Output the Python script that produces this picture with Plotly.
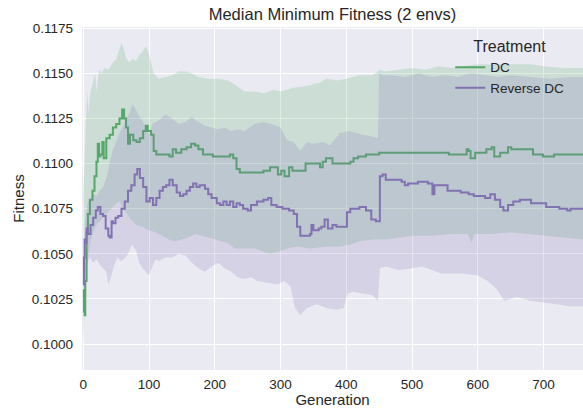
import plotly.graph_objects as go

# ---------------- data ----------------
dc_gen = [0, 1, 2, 3, 5, 7, 10, 14, 17, 20, 22, 24, 26, 29, 31, 35, 40, 45, 50, 55, 59, 62, 65, 68, 71, 76, 81,
          86, 91, 95, 98, 103, 107, 111, 121, 131, 136, 141, 149, 157, 164, 170, 175, 182, 197, 218, 223, 228,
          233, 238, 253, 260, 274, 284, 290, 296, 301, 306, 313, 318, 333, 338, 347, 360, 364, 369, 376, 379,
          391, 406, 411, 418, 430, 450, 494, 554, 556, 579, 583, 586, 589, 593, 596, 605, 613, 621, 625, 634,
          646, 651, 659, 681, 684, 699, 714, 716, 760]
dc_med = [0.1030, 0.1018, 0.1016, 0.1035, 0.1062, 0.1072, 0.1080, 0.1085, 0.1093, 0.1101, 0.1111, 0.1104,
          0.1105, 0.1112, 0.1103, 0.1114, 0.1116, 0.1120, 0.1122, 0.1125, 0.1130, 0.1125, 0.1120, 0.1111,
          0.1116, 0.1113, 0.1112, 0.1114, 0.1118, 0.1121, 0.1118, 0.1116, 0.1107, 0.1105, 0.1105, 0.1104,
          0.1108, 0.1106, 0.1108, 0.1109, 0.1111, 0.1110, 0.1108, 0.1105, 0.1104, 0.1104, 0.1105, 0.1103,
          0.1097, 0.1095, 0.1095, 0.1095, 0.1096, 0.1098, 0.1098, 0.1094, 0.1096, 0.1093, 0.1098, 0.1096,
          0.1096, 0.1100, 0.1100, 0.1098, 0.1101, 0.1103, 0.1103, 0.1100, 0.1100, 0.1101, 0.1103, 0.1104,
          0.1105, 0.1106, 0.1106, 0.1106, 0.1105, 0.1105, 0.1108, 0.1107, 0.1103, 0.1103, 0.1106, 0.1106,
          0.1108, 0.1109, 0.1104, 0.1106, 0.1109, 0.1108, 0.1108, 0.1108, 0.1105, 0.1104, 0.1104, 0.1105,
          0.1105]

rdc_gen = [0, 1, 2, 3, 5, 7, 11, 15, 19, 22, 26, 30, 34, 38, 40, 43, 45, 49, 53, 58, 63, 68, 73, 78, 82, 86,
           91, 96, 101, 106, 111, 116, 121, 126, 131, 136, 142, 147, 152, 157, 162, 167, 172, 177, 185, 190,
           195, 203, 208, 213, 218, 223, 228, 233, 238, 243, 250, 255, 264, 274, 281, 286, 294, 303, 313, 320,
           325, 330, 340, 345, 347, 350, 358, 362, 367, 372, 379, 385, 396, 401, 406, 420, 430, 438, 445, 449,
           451, 455, 460, 479, 484, 489, 494, 509, 520, 524, 529, 531, 534, 549, 554, 569, 574, 586, 594, 611,
           619, 626, 634, 639, 646, 654, 664, 674, 681, 699, 704, 714, 724, 736, 741, 760]
rdc_med = [0.1033, 0.1048, 0.1058, 0.1056, 0.1064, 0.1061, 0.1066, 0.1070, 0.1074, 0.1076, 0.1072, 0.1071,
           0.1064, 0.1060, 0.1059, 0.1068, 0.1067, 0.1070, 0.1071, 0.1075, 0.1079, 0.1085, 0.1088, 0.1094,
           0.1097, 0.1092, 0.1087, 0.1079, 0.1081, 0.1077, 0.1081, 0.1085, 0.1087, 0.1088, 0.1091, 0.1088,
           0.1084, 0.1082, 0.1083, 0.1085, 0.1087, 0.1089, 0.1087, 0.1088, 0.1086, 0.1083, 0.1081, 0.1078,
           0.1077, 0.1079, 0.1077, 0.1079, 0.1076, 0.1078, 0.1077, 0.1075, 0.1074, 0.1077, 0.1079, 0.1080,
           0.1081, 0.1077, 0.1076, 0.1075, 0.1074, 0.1072, 0.1065, 0.1060, 0.1060, 0.1061, 0.1066, 0.1063,
           0.1064, 0.1065, 0.1069, 0.1064, 0.1066, 0.1065, 0.1065, 0.1073, 0.1075, 0.1076, 0.1074, 0.1069,
           0.1068, 0.1068, 0.1093, 0.1094, 0.1091, 0.1091, 0.1090, 0.1088, 0.1089, 0.1090, 0.1090, 0.1089,
           0.1089, 0.1083, 0.1088, 0.1088, 0.1085, 0.1085, 0.1084, 0.1083, 0.1082, 0.1081, 0.1083, 0.1080,
           0.1076, 0.1074, 0.1077, 0.1079, 0.1080, 0.1080, 0.1078, 0.1078, 0.1076, 0.1076, 0.1075, 0.1074,
           0.1075, 0.1075]

dc_hi_gen = [0, 2, 4, 6, 8, 10, 14, 18, 20, 24, 28, 32, 38, 45, 50, 55, 58, 62, 66, 70, 75, 80, 85, 90, 95,
             98, 102, 107, 115, 125, 135, 145, 155, 165, 175, 190, 205, 220, 230, 245, 260, 275, 290, 300,
             320, 340, 360, 370, 385, 400, 420, 440, 452, 460, 480, 500, 520, 540, 560, 580, 600, 620, 650,
             680, 700, 730, 760]
dc_hi = [0.1085, 0.1110, 0.1125, 0.1140, 0.1128, 0.1138, 0.1145, 0.1150, 0.1140, 0.1152, 0.1150, 0.1153,
         0.1152, 0.1156, 0.1158, 0.1163, 0.1167, 0.1163, 0.1158, 0.1156, 0.1158, 0.1157, 0.1160, 0.1162,
         0.1165, 0.1163, 0.1157, 0.1150, 0.1147, 0.1148, 0.1149, 0.1151, 0.1151, 0.1150, 0.1148, 0.1147,
         0.1147, 0.1146, 0.1144, 0.1140, 0.1140, 0.1139, 0.1141, 0.1140, 0.1142, 0.1143, 0.1145, 0.1147,
         0.1146, 0.1147, 0.1149, 0.1149, 0.1152, 0.1151, 0.1152, 0.1153, 0.1152, 0.1154, 0.1153, 0.1154,
         0.1155, 0.1155, 0.1155, 0.1155, 0.1154, 0.1153, 0.1153]

dc_lo_gen = [0, 2, 4, 6, 10, 15, 20, 25, 30, 35, 40, 45, 50, 55, 60, 65, 70, 75, 80, 90, 100, 110, 120, 130,
             140, 150, 160, 170, 180, 190, 200, 210, 220, 230, 245, 260, 275, 285, 295, 310, 325, 345, 370,
             390, 405, 420, 440, 460, 480, 500, 530, 560, 585, 590, 595, 620, 650, 680, 700, 730, 760]
dc_lo = [0.1000, 0.1010, 0.1030, 0.1045, 0.1055, 0.1062, 0.1066, 0.1068, 0.1070, 0.1072, 0.1074, 0.1076,
         0.1078, 0.1079, 0.1075, 0.1073, 0.1070, 0.1068, 0.1066, 0.1065, 0.1063, 0.1062, 0.1060, 0.1058,
         0.1057, 0.1058, 0.1059, 0.1061, 0.1060, 0.1059, 0.1058, 0.1057, 0.1056, 0.1053, 0.1053, 0.1053,
         0.1051, 0.1050, 0.1051, 0.1053, 0.1054, 0.1053, 0.1054, 0.1054, 0.1055, 0.1057, 0.1058, 0.1058,
         0.1059, 0.1060, 0.1060, 0.1061, 0.1061, 0.1056, 0.1061, 0.1061, 0.1062, 0.1061, 0.1060, 0.1059,
         0.1058]

rdc_hi_gen = [0, 3, 6, 10, 15, 20, 25, 30, 35, 40, 45, 50, 55, 60, 65, 70, 75, 80, 85, 90, 95, 100, 105,
              115, 125, 135, 145, 155, 165, 175, 185, 195, 205, 215, 225, 235, 245, 260, 275, 285, 300, 310,
              320, 330, 340, 350, 365, 375, 390, 405, 425, 440, 448, 450, 455, 470, 490, 510, 530, 550, 570,
              590, 610, 630, 650, 680, 710, 740, 760]
rdc_hi = [0.1045, 0.1068, 0.1078, 0.1080, 0.1083, 0.1082, 0.1085, 0.1087, 0.1092, 0.1100, 0.1108, 0.1112,
          0.1117, 0.1120, 0.1125, 0.1128, 0.1133, 0.1130, 0.1126, 0.1124, 0.1120, 0.1116, 0.1122, 0.1124,
          0.1127, 0.1125, 0.1122, 0.1123, 0.1126, 0.1123, 0.1121, 0.1120, 0.1119, 0.1120, 0.1118, 0.1119,
          0.1118, 0.1122, 0.1123, 0.1122, 0.1120, 0.1113, 0.1112, 0.1107, 0.1112, 0.1111, 0.1112, 0.1110,
          0.1117, 0.1118, 0.1116, 0.1115, 0.1114, 0.1150, 0.1149, 0.1149, 0.1148, 0.1150, 0.1148, 0.1149,
          0.1148, 0.1150, 0.1149, 0.1148, 0.1149, 0.1148, 0.1147, 0.1148, 0.1148]

rdc_lo_gen = [0, 3, 6, 10, 15, 20, 25, 30, 35, 38, 42, 47, 52, 57, 62, 68, 74, 80, 85, 90, 95, 100, 105, 110,
              115, 125, 135, 145, 155, 165, 175, 185, 195, 205, 215, 225, 235, 245, 255, 265, 280, 295, 305,
              315, 322, 330, 340, 355, 370, 385, 396, 402, 410, 425, 440, 448, 451, 460, 480, 500, 515, 530,
              545, 560, 580, 600, 615, 630, 640, 660, 680, 700, 720, 740, 760]
rdc_lo = [0.1022, 0.1035, 0.1045, 0.1048, 0.1045, 0.1047, 0.1044, 0.1042, 0.1040, 0.1033, 0.1037, 0.1044,
          0.1048, 0.1046, 0.1047, 0.1050, 0.1055, 0.1052, 0.1045, 0.1042, 0.1040, 0.1038, 0.1043, 0.1047,
          0.1046, 0.1048, 0.1048, 0.1050, 0.1049, 0.1045, 0.1042, 0.1040, 0.1043, 0.1045, 0.1042, 0.1040,
          0.1037, 0.1036, 0.1037, 0.1035, 0.1034, 0.1033, 0.1035, 0.1032, 0.1020, 0.1016, 0.1020, 0.1022,
          0.1020, 0.1019, 0.1020, 0.1028, 0.1029, 0.1028, 0.1027, 0.1024, 0.1042, 0.1043, 0.1041, 0.1042,
          0.1043, 0.1041, 0.1039, 0.1039, 0.1039, 0.1038, 0.1035, 0.1030, 0.1024, 0.1026, 0.1024, 0.1023,
          0.1022, 0.1021, 0.1021]

y_ticks = [0.1000, 0.1025, 0.1050, 0.1075, 0.1100, 0.1125, 0.1150, 0.1175]
x_ticks = [0, 100, 200, 300, 400, 500, 600, 700]

GREEN = "#55A868"
PURPLE = "#8172B2"
TXT = "#262626"
FONT = "Liberation Sans, Arial, sans-serif"


def band(gu, yu, gl, yl, rgba):
    return go.Scatter(x=list(gu) + list(gl)[::-1], y=list(yu) + list(yl)[::-1],
                      fill="toself", fillcolor=rgba, line=dict(width=0),
                      mode="lines", hoverinfo="skip", showlegend=False)


fig = go.Figure()
fig.add_trace(go.Scatter(x=dc_gen, y=dc_med, mode="lines", name="DC",
                         line=dict(color=GREEN, width=2, shape="hv")))
fig.add_trace(band(dc_hi_gen, dc_hi, dc_lo_gen, dc_lo, "rgba(85,168,104,0.2)"))
fig.add_trace(go.Scatter(x=rdc_gen, y=rdc_med, mode="lines", name="Reverse DC",
                         line=dict(color=PURPLE, width=2, shape="hv")))
fig.add_trace(band(rdc_hi_gen, rdc_hi, rdc_lo_gen, rdc_lo, "rgba(129,114,178,0.2)"))

fig.update_layout(
    width=583, height=408,
    margin=dict(l=82, r=0, t=27, b=38),
    paper_bgcolor="white", plot_bgcolor="#EAEAF2",
    font=dict(family=FONT, color=TXT, size=13.5),
    title=dict(text="Median Minimum Fitness (2 envs)", x=0.5, xref="paper", xanchor="center",
               y=1, yref="paper", yanchor="bottom", pad=dict(b=7),
               font=dict(size=16.5, color=TXT, family=FONT)),
    legend=dict(x=0.735, y=0.988, xanchor="left", yanchor="top",
                bgcolor="rgba(0,0,0,0)", borderwidth=0,
                title=dict(text="Treatment", side="top center", font=dict(size=16, color=TXT)),
                font=dict(size=13.5, color=TXT), tracegroupgap=0, itemwidth=30),
    showlegend=True,
)
fig.update_xaxes(range=[-2, 760], tickvals=x_ticks, showgrid=True, gridcolor="white", gridwidth=1,
                 zeroline=False, showline=False, ticks="", ticklabelstandoff=4,
                 title=dict(text="Generation", font=dict(size=15, color=TXT), standoff=2))
fig.update_yaxes(range=[0.098561, 0.11757], tickvals=y_ticks, tickformat=".4f", showgrid=True,
                 gridcolor="white", gridwidth=1, zeroline=False, showline=False, ticks="",
                 ticklabelstandoff=8,
                 title=dict(text="Fitness", font=dict(size=15, color=TXT), standoff=3))

fig.write_html("out.html")
